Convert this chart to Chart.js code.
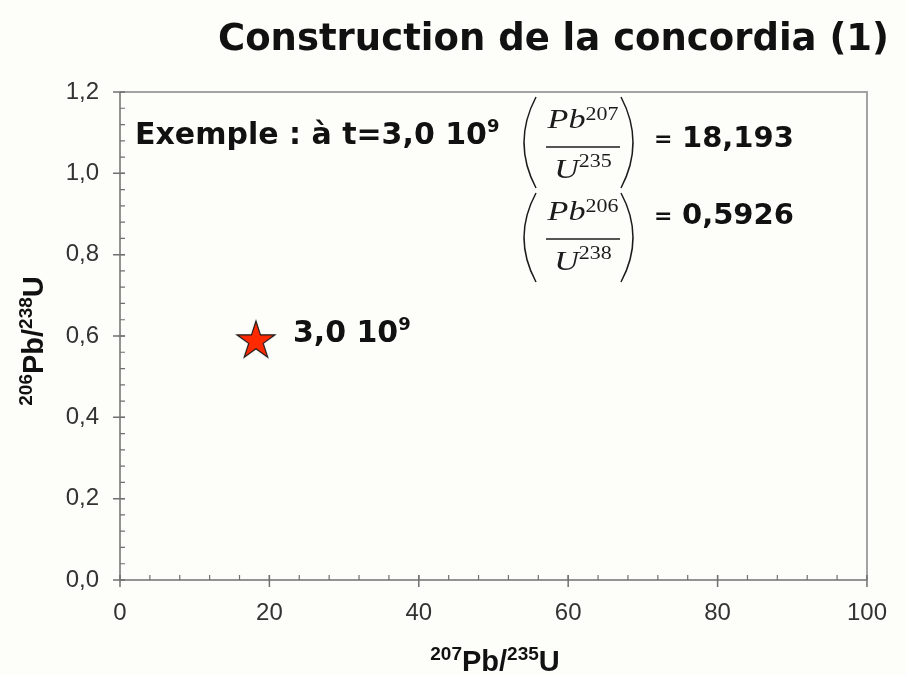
<!DOCTYPE html>
<html>
<head>
<meta charset="utf-8">
<script src="https://cdn.jsdelivr.net/npm/chart.js@4/dist/chart.umd.min.js"></script>
<style>
  html, body { margin: 0; padding: 0; background: #fdfdf9; }
  #wrap { width: 906px; height: 675px; }
</style>
</head>
<body>
<div id="wrap"><canvas id="concordia" width="906" height="675"></canvas></div>
<script>
// ---- data ----
const chartTitle = 'Construction de la concordia (1)';
const exampleText = 'Exemple : à t=3,0 10';
const ageLabels = ['3,0 10'];
const ageExponents = ['9'];
const ratio207Pb235U = [18.193];   // x: 207Pb/235U
const ratio206Pb238U = [0.5926];   // y: 206Pb/238U
const xTickValues = [0, 20, 40, 60, 80, 100];
const yTickValues = [0, 0.2, 0.4, 0.6, 0.8, 1.0, 1.2];
const xMinorStep = 4;
const yMinorStep = 0.04;

const comic = '"DejaVu Sans", Lato, sans-serif';
const serif = '"Liberation Serif", "DejaVu Serif", serif';
const sans = '"Liberation Sans", Arial, sans-serif';

const fmt = (v, d) => v.toFixed(d).replace('.', ',');

// filled five-point star used as the point style
function makeStar(R) {
  const size = Math.ceil(R * 2 + 4);
  const c = document.createElement('canvas');
  c.width = size; c.height = size;
  const g = c.getContext('2d');
  const cx = size / 2, cy = size / 2 + R * 0.1;
  const r = R * 0.382;
  g.beginPath();
  for (let i = 0; i < 10; i++) {
    const rad = i % 2 === 0 ? R : r;
    const ang = -Math.PI / 2 + i * Math.PI / 5;
    const px = cx + rad * Math.cos(ang), py = cy + rad * Math.sin(ang);
    if (i === 0) g.moveTo(px, py); else g.lineTo(px, py);
  }
  g.closePath();
  g.fillStyle = '#ff2a00';
  g.fill();
  g.lineWidth = 1.2;
  g.strokeStyle = '#1a1a1a';
  g.stroke();
  return c;
}

// text with a raised exponent; returns end x
function textWithSup(ctx, base, sup, x, y, font, supFont, rise) {
  ctx.font = font;
  ctx.fillText(base, x, y);
  const w = ctx.measureText(base).width;
  ctx.font = supFont;
  ctx.fillText(sup, x + w, y - rise);
  return x + w + ctx.measureText(sup).width;
}

function supWidth(ctx, parts) {
  let w = 0;
  parts.forEach(([t, f]) => { ctx.font = f; w += ctx.measureText(t).width; });
  return w;
}

// draws a sequence of [text, font, rise] pieces starting at x
function drawPieces(ctx, parts, x, y) {
  parts.forEach(([t, f, rise]) => {
    ctx.font = f;
    ctx.fillText(t, x, y - rise);
    x += ctx.measureText(t).width;
  });
}

// stacked isotope ratio in parentheses
function drawFraction(ctx, cx, lineY, top, bottom, num, numSup, den, denSup) {
  const sx = 1.22;
  ctx.save();
  ctx.fillStyle = '#1c1c1c';
  ctx.strokeStyle = '#1c1c1c';
  const bigF = 'italic 28px ' + serif;
  const supF = '18px ' + serif;
  ctx.textBaseline = 'alphabetic';
  ctx.textAlign = 'left';
  const drawRow = (base, sup, baseY, supRise) => {
    ctx.font = bigF;
    const wb = ctx.measureText(base).width;
    ctx.font = supF;
    const ws = ctx.measureText(sup).width;
    const total = (wb + ws) * sx;
    ctx.save();
    ctx.translate(cx - total / 2, baseY);
    ctx.scale(sx, 1);
    ctx.font = bigF;
    ctx.fillText(base, 0, 0);
    ctx.font = supF;
    ctx.fillText(sup, wb, -supRise);
    ctx.restore();
  };
  drawRow(num, numSup, lineY - 19, 8);
  drawRow(den, denSup, lineY + 31, 11);
  ctx.lineWidth = 1.6;
  ctx.beginPath();
  ctx.moveTo(cx - 37, lineY);
  ctx.lineTo(cx + 37, lineY);
  ctx.stroke();
  const mid = (top + bottom) / 2;
  ctx.lineWidth = 1.5;
  ctx.beginPath();
  ctx.moveTo(cx - 47, top);
  ctx.quadraticCurveTo(cx - 71, mid, cx - 47, bottom);
  ctx.moveTo(cx + 38, top);
  ctx.quadraticCurveTo(cx + 62, mid, cx + 38, bottom);
  ctx.stroke();
  ctx.restore();
}

const decor = {
  id: 'decor',
  beforeDraw(chart) {
    const ctx = chart.ctx;
    ctx.save();
    ctx.fillStyle = '#fdfdf9';
    ctx.fillRect(0, 0, chart.width, chart.height);
    ctx.restore();
  },
  beforeDatasetsDraw(chart) {
    const { ctx, chartArea: a, scales: { x, y } } = chart;
    ctx.save();
    // frame
    ctx.strokeStyle = '#a3a3a3';
    ctx.lineWidth = 2;
    ctx.beginPath();
    ctx.moveTo(a.left, a.top);
    ctx.lineTo(a.right, a.top);
    ctx.lineTo(a.right, a.bottom);
    ctx.stroke();
    // axes
    ctx.strokeStyle = '#707070';
    ctx.lineWidth = 1.5;
    ctx.beginPath();
    ctx.moveTo(a.left, a.top);
    ctx.lineTo(a.left, a.bottom);
    ctx.lineTo(a.right, a.bottom);
    ctx.stroke();
    // minor ticks (inside)
    ctx.lineWidth = 1.2;
    ctx.beginPath();
    for (let i = 1; i * xMinorStep < x.max; i++) {
      const px = x.getPixelForValue(i * xMinorStep);
      ctx.moveTo(px, a.bottom);
      ctx.lineTo(px, a.bottom - 5);
    }
    for (let i = 1; i * yMinorStep < y.max - 1e-9; i++) {
      const py = y.getPixelForValue(i * yMinorStep);
      ctx.moveTo(a.left, py);
      ctx.lineTo(a.left + 5, py);
    }
    ctx.stroke();
    // major ticks (crossing)
    ctx.lineWidth = 1.5;
    ctx.beginPath();
    x.ticks.forEach(t => {
      const px = x.getPixelForValue(t.value);
      ctx.moveTo(px, a.bottom - 5);
      ctx.lineTo(px, a.bottom + 7);
    });
    y.ticks.forEach(t => {
      const py = y.getPixelForValue(t.value);
      ctx.moveTo(a.left - 7, py);
      ctx.lineTo(a.left + 5, py);
    });
    ctx.stroke();
    ctx.restore();
  },
  afterDraw(chart) {
    const ctx = chart.ctx;
    ctx.save();
    ctx.fillStyle = '#111';
    ctx.textAlign = 'left';
    ctx.textBaseline = 'middle';

    // title
    ctx.font = 'bold 37px ' + comic;
    ctx.fillText(chartTitle, 218, 40);

    // example heading
    textWithSup(ctx, exampleText, '9', 135, 136,
      'bold 30px ' + comic, 'bold 18px ' + comic, 9);

    // ratios
    drawFraction(ctx, 583, 147, 97, 188, 'Pb', '207', 'U', '235');
    drawFraction(ctx, 583, 239, 193, 282, 'Pb', '206', 'U', '238');
    ctx.fillStyle = '#111';
    ctx.textBaseline = 'middle';
    ctx.font = 'bold 22px ' + comic;
    ctx.fillText('=', 654, 140);
    ctx.fillText('=', 654, 217);
    ctx.font = 'bold 29px ' + comic;
    ctx.fillText(fmt(ratio207Pb235U[0], 3), 682, 139);
    ctx.fillText(fmt(ratio206Pb238U[0], 4), 682, 216);

    // age label beside each point
    const meta = chart.getDatasetMeta(0);
    meta.data.forEach((pt, i) => {
      textWithSup(ctx, ageLabels[i], ageExponents[i], pt.x + 37, pt.y - 5,
        'bold 30px ' + comic, 'bold 18px ' + comic, 9);
    });

    // axis titles
    ctx.fillStyle = '#111';
    ctx.textBaseline = 'alphabetic';
    const big = 'bold 29px ' + sans, small = 'bold 19px ' + sans;
    const xParts = [['207', small, 11], ['Pb/', big, 0], ['235', small, 11], ['U', big, 0]];
    const wx = supWidth(ctx, xParts);
    drawPieces(ctx, xParts, 495 - wx / 2, 671);
    const yParts = [['206', small, 11], ['Pb/', big, 0], ['238', small, 11], ['U', big, 0]];
    const wy = supWidth(ctx, yParts);
    ctx.translate(43, 341);
    ctx.rotate(-Math.PI / 2);
    drawPieces(ctx, yParts, -wy / 2, 0);
    ctx.restore();
  }
};

const starImg = makeStar(20);

new Chart(document.getElementById('concordia'), {
  type: 'scatter',
  data: {
    datasets: [{
      data: ratio207Pb235U.map((v, i) => ({ x: v, y: ratio206Pb238U[i] })),
      pointStyle: starImg,
      pointRadius: 20,
      pointHoverRadius: 20
    }]
  },
  options: {
    responsive: false,
    devicePixelRatio: 1,
    animation: false,
    events: [],
    layout: { padding: { left: 0, right: 38, top: 92, bottom: 0 } },
    plugins: { legend: { display: false }, tooltip: { enabled: false } },
    scales: {
      x: {
        type: 'linear',
        min: 0, max: 100,
        afterBuildTicks: s => { s.ticks = xTickValues.map(v => ({ value: v })); },
        afterFit: s => { s.height = 95; },
        grid: { display: false, drawTicks: false },
        border: { display: false },
        ticks: {
          padding: 19,
          color: '#333',
          font: { family: 'Liberation Sans', size: 24 },
          callback: v => String(v)
        }
      },
      y: {
        type: 'linear',
        min: 0, max: 1.2,
        afterBuildTicks: s => { s.ticks = yTickValues.map(v => ({ value: v })); },
        afterFit: s => { s.width = 120; },
        grid: { display: false, drawTicks: false },
        border: { display: false },
        ticks: {
          padding: 21,
          color: '#333',
          font: { family: 'Liberation Sans', size: 24 },
          callback: v => fmt(v, 1)
        }
      }
    }
  },
  plugins: [decor]
});
</script>
</body>
</html>
